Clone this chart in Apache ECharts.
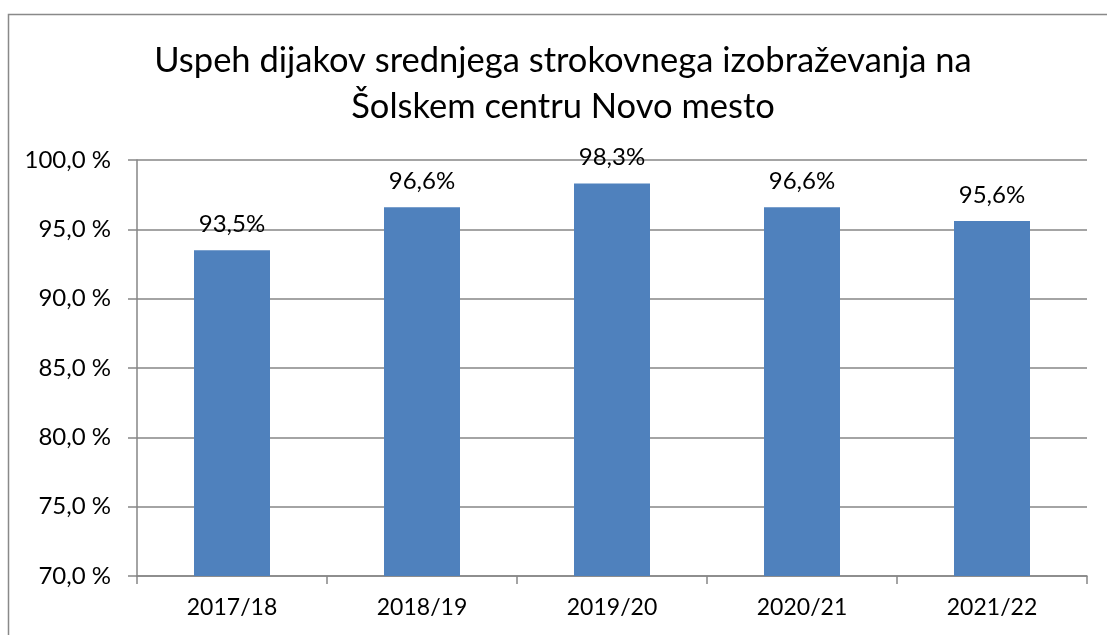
<!DOCTYPE html>
<html>
<head>
<meta charset="utf-8">
<script src="https://cdn.jsdelivr.net/npm/echarts@6/dist/echarts.min.js"></script>
<style>
  html, body { margin: 0; padding: 0; background: #fff; }
  #chart { width: 1107px; height: 635px; }
</style>
</head>
<body>
<div id="chart"></div>
<script>
const titleText = 'Uspeh dijakov srednjega strokovnega izobraževanja na\nŠolskem centru Novo mesto';
const years = ['2017/18', '2018/19', '2019/20', '2020/21', '2021/22'];
const success = [93.5, 96.6, 98.3, 96.6, 95.6];

const FONT = 'Lato';
const fmt = v => v.toFixed(1).replace('.', ',');

const chart = echarts.init(document.getElementById('chart'));

chart.setOption({
  animation: false,
  textStyle: { fontFamily: FONT },
  title: {
    text: titleText,
    left: 563,
    top: 38,
    padding: 0,
    textAlign: 'center',
    textStyle: { fontFamily: FONT, fontSize: 34.5, fontWeight: 'normal', color: '#000', lineHeight: 46 },
  },
  // outer chart frame (right/bottom edges fall outside the picture)
  graphic: [{
    type: 'rect',
    shape: { x: 8.5, y: 14.5, width: 1200, height: 700 },
    style: { fill: 'none', stroke: '#898989', lineWidth: 1.5 },
    silent: true,
  }],
  grid: { left: 137, right: 20, top: 160, bottom: 59, containLabel: false },
  xAxis: {
    type: 'category',
    data: years,
    axisLine: { lineStyle: { color: '#868686', width: 1.5 } },
    axisTick: { show: true, length: 8, lineStyle: { color: '#868686', width: 1.5 } },
    axisLabel: { color: '#000', fontSize: 23, margin: 20, fontFamily: FONT },
  },
  yAxis: {
    type: 'value',
    min: 70,
    max: 100,
    interval: 5,
    axisLine: { show: true, lineStyle: { color: '#868686', width: 1.5 } },
    axisTick: { show: true, length: 9, lineStyle: { color: '#868686', width: 1.5 } },
    splitLine: { lineStyle: { color: '#868686', width: 1.5 } },
    axisLabel: { color: '#000', fontSize: 24, margin: 26, fontFamily: FONT, formatter: v => fmt(v) + ' %' },
  },
  series: [{
    type: 'bar',
    data: success,
    barWidth: '40%',
    itemStyle: { color: '#4F81BD' },
    label: {
      show: true,
      position: 'top',
      distance: 14,
      color: '#000',
      fontSize: 24,
      fontFamily: FONT,
      formatter: p => fmt(p.value) + '%',
    },
  }],
});
</script>
</body>
</html>
